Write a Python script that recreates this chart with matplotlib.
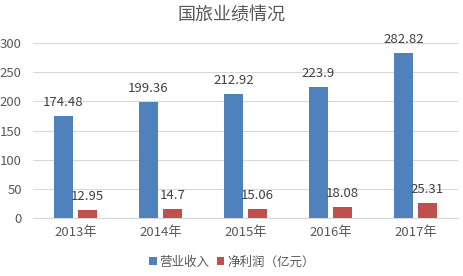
import numpy as np
import matplotlib
matplotlib.use("Agg")
import matplotlib.pyplot as plt

plt.rcParams["font.family"] = ["Noto Sans CJK SC", "DejaVu Sans"]

# --- Data ---
years = ["2013年", "2014年", "2015年", "2016年", "2017年"]
revenue = [174.48, 199.36, 212.92, 223.9, 282.82]
profit = [12.95, 14.7, 15.06, 18.08, 25.31]
revenue_labels = ["174.48", "199.36", "212.92", "223.9", "282.82"]
profit_labels = ["12.95", "14.7", "15.06", "18.08", "25.31"]

BLUE = "#4f81bd"
RED = "#c0504d"
TEXT = "#595959"

fig = plt.figure(figsize=(4.64, 2.76), dpi=100)
ax = fig.add_axes([0.071, 0.21, 0.916, 0.634])

x = np.arange(len(years))
w = 0.225
off = 0.14

b1 = ax.bar(x - off, revenue, w, color=BLUE, label="营业收入", zorder=3)
b2 = ax.bar(x + off, profit, w, color=RED, label="净利润（亿元）", zorder=3)

for xi, v, t in zip(x - off, revenue, revenue_labels):
    ax.text(xi, v + 12, t, ha="center", va="bottom", fontsize=9.5, color="#404040")
for xi, v, t in zip(x + off, profit, profit_labels):
    ax.text(xi, v + 13, t, ha="center", va="bottom", fontsize=9.5, color="#404040")

ax.set_xlim(-0.5, len(years) - 0.5)
ax.set_ylim(0, 300)
ax.set_yticks(range(0, 301, 50))
ax.set_xticks(x)
ax.set_xticklabels(years)
ax.tick_params(axis="both", length=0, labelsize=9.5, colors=TEXT)
ax.tick_params(axis="x", pad=6)
ax.tick_params(axis="y", pad=8)
ax.grid(axis="y", color="#d9d9d9", linewidth=0.8, zorder=0)
for s in ["top", "right", "left"]:
    ax.spines[s].set_visible(False)
ax.spines["bottom"].set_color("#d9d9d9")
ax.spines["bottom"].set_linewidth(0.8)

fig.text(0.5, 0.945, "国旅业绩情况", ha="center", va="center", fontsize=13, color=TEXT)

fig.legend(handles=[b1, b2], loc="center", bbox_to_anchor=(0.5, 0.05), ncol=2,
           frameon=False, fontsize=9, handlelength=0.6, handleheight=0.6,
           handletextpad=0.2, columnspacing=0.6, labelcolor=TEXT)

fig.savefig("out.png", dpi=100)
